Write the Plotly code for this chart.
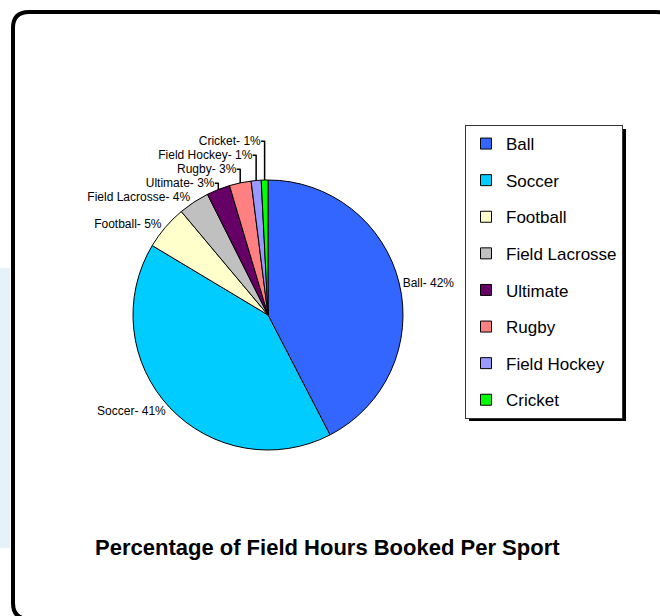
import plotly.graph_objects as go

W, H = 660, 616

sports = ["Ball", "Soccer", "Football", "Field Lacrosse", "Ultimate", "Rugby", "Field Hockey", "Cricket"]
hours_pct = [42.4, 41.2, 5.3, 3.7, 2.8, 2.6, 1.2, 0.8]
slice_colors = ["#3366FF", "#00CCFF", "#FFFFCC", "#C0C0C0", "#660066", "#FF8080", "#9999FF", "#00FF00"]

FONT = "Liberation Sans, Arial, sans-serif"


def px(x):
    return x / W


def py(y):
    return 1 - y / H


def rounded_rect(x0, y0, x1, y1, r):
    return (
        f"M {px(x0)},{py(y0 + r)} Q {px(x0)},{py(y0)} {px(x0 + r)},{py(y0)} "
        f"L {px(x1 - r)},{py(y0)} Q {px(x1)},{py(y0)} {px(x1)},{py(y0 + r)} "
        f"L {px(x1)},{py(y1 - r)} Q {px(x1)},{py(y1)} {px(x1 - r)},{py(y1)} "
        f"L {px(x0 + r)},{py(y1)} Q {px(x0)},{py(y1)} {px(x0)},{py(y1 - r)} Z"
    )


# pie centre / radius in pixels
cx, cy, R = 268, 315, 135

fig = go.Figure()
fig.add_trace(go.Pie(
    labels=sports,
    values=hours_pct,
    sort=False,
    direction="clockwise",
    rotation=0,
    marker=dict(colors=slice_colors, line=dict(color="black", width=1)),
    textposition="outside",
    texttemplate="%{label}- %{percent:.0%}",
    outsidetextfont=dict(family=FONT, size=12, color="black"),
    showlegend=False,
    hoverinfo="label+percent",
    domain=dict(x=[px(cx - R), px(cx + R)], y=[py(cy + R), py(cy - R)]),
))

# legend entries, one group each so the gap spreads them out like the original
for name, col in zip(sports, slice_colors):
    fig.add_trace(go.Scatter(
        x=[None], y=[None], mode="markers", name=name, legendgroup=name,
        marker=dict(symbol="square", size=11, color=col, line=dict(color="black", width=1)),
    ))

fig.update_layout(
    width=W, height=H,
    margin=dict(l=0, r=0, t=0, b=0),
    paper_bgcolor="white",
    plot_bgcolor="rgba(0,0,0,0)",
    xaxis=dict(visible=False),
    yaxis=dict(visible=False),
    font=dict(family=FONT, color="black"),
    legend=dict(
        x=px(465), y=py(125), xanchor="left", yanchor="top",
        bgcolor="white", bordercolor="#333333", borderwidth=1,
        font=dict(family=FONT, size=17, color="black"),
        tracegroupgap=11.5,
    ),
    shapes=[
        dict(type="rect", xref="paper", yref="paper", x0=0, x1=px(10), y0=py(548), y1=py(268),
             fillcolor="#E6F2F9", line=dict(width=0), layer="below"),
        dict(type="path", xref="paper", yref="paper", path=rounded_rect(13, 12, 672, 619, 16),
             line=dict(color="black", width=4), layer="below"),
        # drop shadow behind the legend box
        dict(type="rect", xref="paper", yref="paper", x0=px(469), x1=px(626), y0=py(421), y1=py(129),
             fillcolor="black", line=dict(width=0), layer="below"),
    ],
    annotations=[
        dict(text="<b>Percentage of Field Hours Booked Per Sport</b>", x=px(327), y=py(547),
             xref="paper", yref="paper", xanchor="center", yanchor="middle", showarrow=False,
             font=dict(family=FONT, size=22, color="black")),
    ],
)

fig.write_html("out.html", config={"displayModeBar": False},
               post_script="document.body.style.margin = '0';")
